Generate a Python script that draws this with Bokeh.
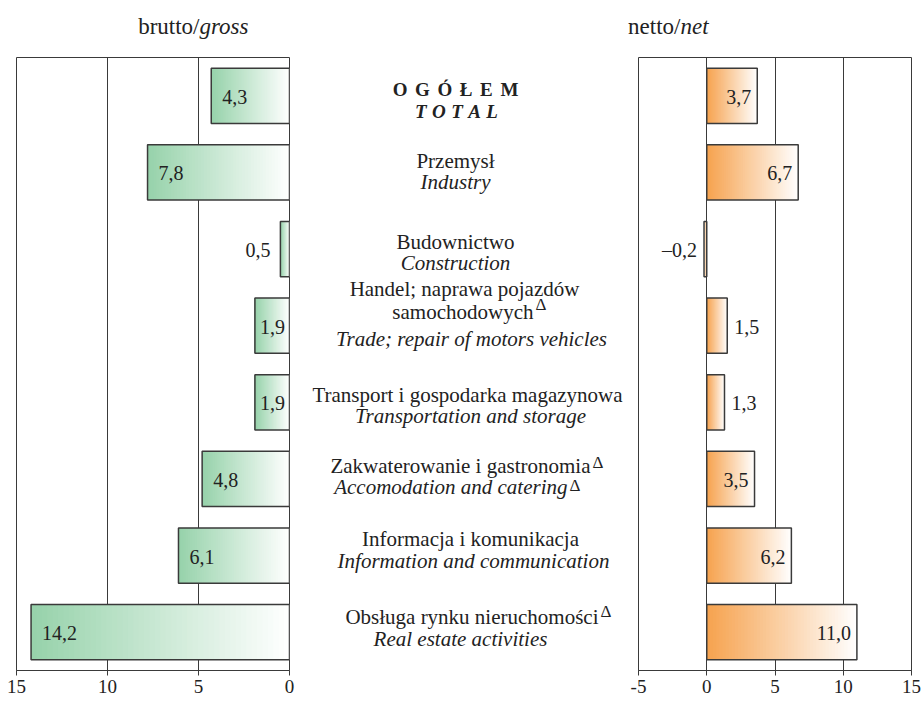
from bokeh.plotting import figure
from bokeh.layouts import row, column
from bokeh.models import Range1d, FixedTicker
from bokeh.core.properties import value
from bokeh.embed import file_html
from bokeh.resources import INLINE

# ---------------- data ----------------
sections_pl = ["OGÓŁEM", "Przemysł", "Budownictwo",
               "Handel; naprawa pojazdów\nsamochodowych",
               "Transport i gospodarka magazynowa",
               "Zakwaterowanie i gastronomia",
               "Informacja i komunikacja",
               "Obsługa rynku nieruchomości"]
sections_en = ["TOTAL", "Industry", "Construction",
               "Trade; repair of motors vehicles",
               "Transportation and storage",
               "Accomodation and catering",
               "Information and communication",
               "Real estate activities"]
delta_pl = [False, False, False, True, False, True, False, True]
delta_en = [False, False, False, False, False, True, False, False]
gross = [4.3, 7.8, 0.5, 1.9, 1.9, 4.8, 6.1, 14.2]
net = [3.7, 6.7, -0.2, 1.5, 1.3, 3.5, 6.2, 11.0]
gross_ticks = [0, 5, 10, 15]
net_ticks = [-5, 0, 5, 10, 15]
title_left = ("brutto/", "gross")
title_right = ("netto/", "net")

# ---------------- layout / style ----------------
FONT = "Liberation Serif"
FRAME_H = 613
FRAME_W = 273
HEAD_H = 57
PAGE_W = 924
BAR_H = 0.72
N = len(gross)
rows = list(range(N))
GREEN = (150, 210, 170)
ORANGE = (246, 162, 78)
WHITE = (255, 255, 255)
LINE = "#3a3a3a"
TXT = "#222222"
L_BORDER = (16, 6)     # left panel: min border left/right
R_BORDER = (9, 12)     # right panel
MID_X = (295, 629)     # page-pixel span of the centre column
BASE_FIX = -7          # baseline correction for alphabetic texts (px)
HEAD_SPLIT = (199, 680)  # page x where roman / italic parts of the headings meet
HEAD_BASE = 33           # page y of the heading baseline

# centre label layout (page pixels): baseline offsets from row centre, centres, right edges
pl_dy = [1, -4, 0, -30, 0, -6, -10, -8]
en_dy = [23, 17, 21, 20, 21, 15, 12, 14]
pl_cx = [455, 455, 455, 464, 467, 459, 470, 467]
en_cx = [456, 455, 455, 471, 470, 452, 473, 460]
pl_end = [None, None, None, 533, None, 590, None, 598]
en_end = [None, None, None, None, None, 567, None, None]
pl_rise = [0, 0, 0, 7, 0, 3, 0, 6]
en_rise = [0, 0, 0, 0, 0, 1, 0, 0]

yr = Range1d(N - 0.5, -0.5)


def mix(c1, c2, f):
    return "#%02x%02x%02x" % tuple(int(round(a + (b - a) * f)) for a, b in zip(c1, c2))


def fmt(v):
    s = f"{abs(v):.1f}".replace(".", ",")
    return ("–" + s) if v < 0 else s


def plain(p):
    p.outline_line_color = None
    p.xgrid.grid_line_color = None
    p.ygrid.grid_line_color = None
    p.background_fill_color = "white"
    p.border_fill_color = "white"


def base_fig(xr, ticks, borders):
    p = figure(frame_width=FRAME_W, frame_height=FRAME_H, x_range=xr, y_range=yr,
               output_backend="svg", toolbar_location=None, y_axis_location=None,
               min_border_left=borders[0], min_border_right=borders[1],
               min_border_top=0, min_border_bottom=0)
    p.xaxis.ticker = FixedTicker(ticks=ticks)
    p.xaxis.major_label_overrides = {t: str(t) for t in ticks}
    p.xgrid.ticker = FixedTicker(ticks=ticks)
    p.xgrid.grid_line_color = LINE
    p.xgrid.grid_line_width = 1
    p.ygrid.grid_line_color = None
    p.xaxis.axis_line_color = LINE
    p.xaxis.major_tick_line_color = LINE
    p.xaxis.major_tick_out = 5
    p.xaxis.major_tick_in = 0
    p.xaxis.minor_tick_line_color = None
    p.xaxis.major_label_standoff = 4
    p.xaxis.major_label_text_font = FONT
    p.xaxis.major_label_text_font_size = "19px"
    p.xaxis.major_label_text_color = TXT
    p.outline_line_color = LINE
    p.outline_line_width = 1
    p.background_fill_color = "white"
    p.border_fill_color = "white"
    return p


def gradient_bars(p, values, c_zero, c_end, steps=48):
    for j in range(steps):
        f = (j + 0.5) / steps
        p.hbar(y=rows, left=[v * j / steps for v in values], right=values,
               height=BAR_H, fill_color=mix(c_zero, c_end, f), line_color=None)
    p.hbar(y=rows, left=0, right=values, height=BAR_H, fill_color=None,
           line_color=LINE, line_width=1.5)


def value_labels(p, values, groups):
    for (sel, off, align) in groups:
        idx = [i for i, v in enumerate(values) if sel(v)]
        if not idx:
            continue
        p.text(x=[values[i] for i in idx], y=[i for i in idx],
               text=[fmt(values[i]) for i in idx],
               x_offset=off, y_offset=1, text_align=align, text_baseline="middle",
               text_font=value(FONT), text_font_size="20px", text_color=TXT)


# ---------------- headings ----------------
head = figure(frame_width=PAGE_W - 2, frame_height=HEAD_H, x_range=Range1d(0, PAGE_W - 2),
              y_range=Range1d(HEAD_H, 0), output_backend="svg", toolbar_location=None,
              x_axis_location=None, y_axis_location=None,
              min_border_left=0, min_border_right=0, min_border_top=0, min_border_bottom=0)
plain(head)
for xs, parts in zip(HEAD_SPLIT, (title_left, title_right)):
    head.text(x=[xs], y=[HEAD_BASE], y_offset=BASE_FIX, text=[parts[0]], text_align="right",
              text_baseline="alphabetic", text_font=value(FONT), text_font_size="23px",
              text_color=TXT)
    head.text(x=[xs], y=[HEAD_BASE], y_offset=BASE_FIX, text=[parts[1]], text_align="left",
              text_baseline="alphabetic", text_font=value(FONT), text_font_size="23px",
              text_font_style="italic", text_color=TXT)

# ---------------- left panel (gross) ----------------
left = base_fig(Range1d(15, 0), gross_ticks, L_BORDER)
gradient_bars(left, gross, WHITE, GREEN)
value_labels(left, gross, [(lambda v: v >= 2.5, 11, "left"),
                           (lambda v: 1 <= v < 2.5, 5, "left"),
                           (lambda v: v < 1, -10, "right")])

# ---------------- right panel (net) ----------------
right = base_fig(Range1d(-5, 15), net_ticks, R_BORDER)
gradient_bars(right, net, ORANGE, WHITE)
value_labels(right, net, [(lambda v: v >= 2, -6, "right"),
                          (lambda v: 0 <= v < 2, 7, "left"),
                          (lambda v: v < 0, -7, "right")])

# ---------------- centre labels ----------------
mid_w = MID_X[1] - MID_X[0]
mid = figure(frame_width=mid_w, frame_height=FRAME_H, x_range=Range1d(*MID_X), y_range=yr,
             output_backend="svg", toolbar_location=None,
             x_axis_location=None, y_axis_location=None,
             min_border_left=0, min_border_right=0, min_border_top=0, min_border_bottom=0)
plain(mid)


def put(x, r, dy, txt, style, size, align):
    mid.text(x=[x], y=[r], text=[txt], y_offset=dy + BASE_FIX, text_align=align,
             text_baseline="alphabetic", text_font=value(FONT), text_font_size=size,
             text_font_style=style, text_color=TXT)


for i in rows:
    pl_lines = sections_pl[i].split("\n")
    for k, line in enumerate(pl_lines):
        dy = pl_dy[i] + 23 * k
        if i == 0:
            put(pl_cx[i], i, dy, "\u2009\u2009".join(line), "bold", "19px", "center")
        elif delta_pl[i] and k == len(pl_lines) - 1:
            put(pl_end[i], i, dy, line, "normal", "21px", "right")
            put(pl_end[i] + 2, i, dy - pl_rise[i], "Δ", "normal", "17px", "left")
        else:
            put(pl_cx[i], i, dy, line, "normal", "21px", "center")
    dy = en_dy[i]
    if i == 0:
        put(en_cx[i], i, dy, "\u2009\u200a".join(sections_en[i]), "bold italic", "19px", "center")
    elif delta_en[i]:
        put(en_end[i], i, dy, sections_en[i], "italic", "21px", "right")
        put(en_end[i] + 2, i, dy - en_rise[i], "Δ", "normal", "17px", "left")
    else:
        put(en_cx[i], i, dy, sections_en[i], "italic", "21px", "center")

layout = column(head, row(left, mid, right))
open("out.html", "w").write(file_html(layout, INLINE))
